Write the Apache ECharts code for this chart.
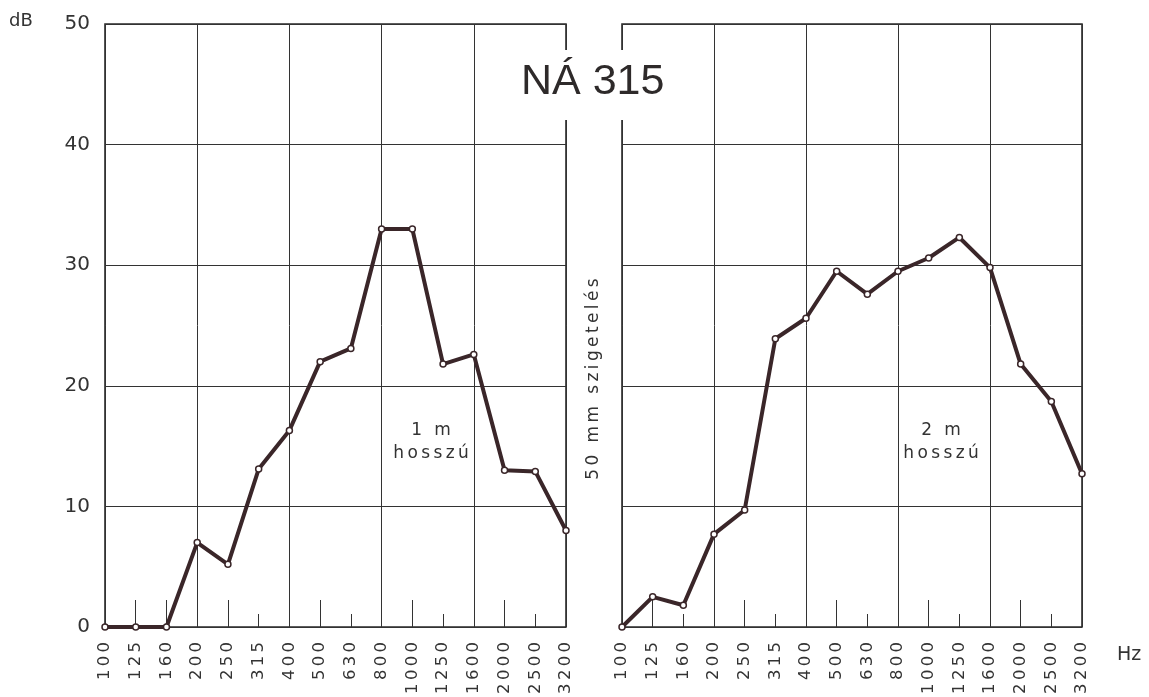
<!DOCTYPE html>
<html>
<head>
<meta charset="utf-8">
<script src="https://cdn.jsdelivr.net/npm/echarts@6/dist/echarts.min.js"></script>
<style>
html,body{margin:0;padding:0;background:#fff;}
#c{width:1149px;height:697px;}
</style>
</head>
<body>
<div id="c"></div>
<script>
// ---- data ----
const freqs = ['100','125','160','200','250','315','400','500','630','800','1000','1250','1600','2000','2500','3200'];
const len1m = [0, 0, 0, 7.0, 5.2, 13.1, 16.3, 22.0, 23.1, 33.0, 33.0, 21.8, 22.6, 13.0, 12.9, 8.0];
const len2m = [0, 2.5, 1.8, 7.7, 9.7, 23.9, 25.6, 29.5, 27.6, 29.5, 30.6, 32.3, 29.8, 21.8, 18.7, 12.7];
const yTicks = [0, 10, 20, 30, 40, 50];
const title = 'NÁ 315';
const labelLeft = ['1 m', 'hosszú'];
const labelRight = ['2 m', 'hosszú'];
const sideText = '50 mm szigetelés';

const INK = '#2e2a2a';
const LINE = '#3a2629';
const FONT = '"DejaVu Sans", "Liberation Sans", sans-serif';
const spaced = s => s.split('').join('\u2009');

const chart = echarts.init(document.getElementById('c'), null, {renderer: 'canvas'});

function mainX(gi) {
  return {
    type: 'category', gridIndex: gi, data: freqs, boundaryGap: false, position: 'bottom',
    axisLine: {show: false},
    axisTick: {show: false},
    axisLabel: {
      rotate: 90, margin: 15, color: '#333', fontSize: 16.5, fontFamily: FONT,
      interval: 0, formatter: v => spaced(v)
    },
    splitLine: {show: true, interval: (i) => i % 3 === 0, lineStyle: {color: '#333', width: 1}}
  };
}
function tickX(gi, set, length) {
  return {
    type: 'category', gridIndex: gi, data: freqs, boundaryGap: false, position: 'bottom',
    axisLine: {show: false},
    axisLabel: {show: false},
    splitLine: {show: false},
    axisTick: {show: true, inside: true, length: length, interval: (i) => set.indexOf(i) >= 0,
      lineStyle: {color: '#333', width: 1}}
  };
}
function yAx(gi, showLabels) {
  return {
    type: 'value', gridIndex: gi, min: 0, max: 50, interval: 10,
    axisLine: {show: false}, axisTick: {show: false},
    axisLabel: {show: showLabels, margin: 15, color: '#333', fontSize: 20, fontFamily: FONT,
      formatter: v => yTicks.indexOf(v) >= 0 ? String(v) : ''},
    splitLine: {show: true, lineStyle: {color: '#333', width: 1}}
  };
}
function lineSeries(xi, yi, data) {
  return {
    type: 'line', xAxisIndex: xi, yAxisIndex: yi, data: data,
    symbol: 'circle', symbolSize: 6, showAllSymbol: true,
    lineStyle: {color: LINE, width: 4},
    itemStyle: {color: '#fff', borderColor: LINE, borderWidth: 1.5},
    z: 5, animation: false
  };
}

chart.setOption({
  animation: false,
  backgroundColor: '#fff',
  grid: [
    {left: 105, top: 24, width: 461, height: 603, show: true, borderColor: '#2a2a2a', borderWidth: 1.6, backgroundColor: 'transparent'},
    {left: 622, top: 24, width: 460, height: 603, show: true, borderColor: '#2a2a2a', borderWidth: 1.6, backgroundColor: 'transparent'}
  ],
  xAxis: [
    mainX(0), tickX(0, [1, 2, 4, 7, 10, 13], 27), tickX(0, [5, 8, 11, 14], 13),
    mainX(1), tickX(1, [1, 4, 7, 10, 13], 27), tickX(1, [2, 5, 8, 11, 14], 13)
  ],
  yAxis: [yAx(0, true), yAx(1, false)],
  series: [lineSeries(0, 0, len1m), lineSeries(3, 1, len2m)],
  graphic: [
    {type: 'rect', z: 100, shape: {x: 555, y: 50, width: 78, height: 70}, style: {fill: '#fff'}},
    {type: 'text', z: 101, left: 521, top: 61, style: {text: title, fontSize: 43, fontFamily: '"Liberation Sans", sans-serif', fill: INK}},
    {type: 'text', z: 101, left: 9, top: 12, style: {text: 'dB', fontSize: 18, fontFamily: FONT, fill: '#333'}},
    {type: 'text', z: 101, left: 1117, top: 646, style: {text: 'Hz', fontSize: 19, fontFamily: FONT, fill: '#333'}},
    {type: 'text', z: 101, x: 594, y: 379, rotation: Math.PI / 2,
      style: {text: spaced(sideText), fontSize: 17, fontFamily: FONT, fill: '#333', align: 'center', verticalAlign: 'middle'}},
    {type: 'text', z: 101, x: 431, y: 442,
      style: {text: spaced(labelLeft[0]) + '\n' + spaced(labelLeft[1]), fontSize: 17, lineHeight: 23, fontFamily: FONT, fill: '#333', align: 'center', verticalAlign: 'middle'}},
    {type: 'text', z: 101, x: 941, y: 442,
      style: {text: spaced(labelRight[0]) + '\n' + spaced(labelRight[1]), fontSize: 17, lineHeight: 23, fontFamily: FONT, fill: '#333', align: 'center', verticalAlign: 'middle'}}
  ]
});
</script>
</body>
</html>
